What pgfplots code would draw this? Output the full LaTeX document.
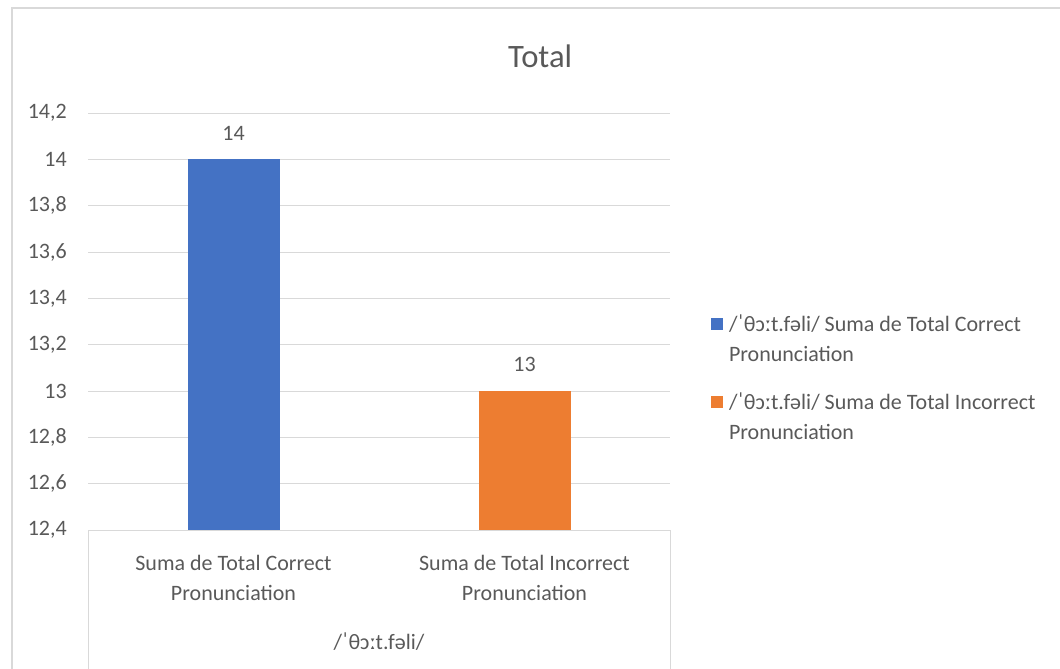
\documentclass[border=0pt]{standalone}
\usepackage{fontspec}
\setmainfont{Carlito}
\usepackage{pgfplots}
\pgfplotsset{compat=1.18}
\definecolor{xblue}{HTML}{4472C4}
\definecolor{xorange}{HTML}{ED7D31}
\definecolor{txt}{HTML}{595959}
\definecolor{gridc}{HTML}{D9D9D9}
\newcommand{\ipa}{/ˈθɔːt.fəli/}
\newcommand{\lblfont}{\fontsize{16.5}{22.5}\selectfont}

\begin{document}
\begin{tikzpicture}
\useasboundingbox (0,0) rectangle (795pt,-501pt);
\draw[gridc, line width=1pt] (9pt,-520pt) -- (9pt,-6pt) -- (820pt,-6pt);
\begin{axis}[
  name=ax, at={(66pt,-397.5pt)}, anchor=south west,
  scale only axis, width=436.5pt, height=312.75pt,
  xmin=-0.5, xmax=1.5, ymin=12.4, ymax=14.2,
  ytick={12.4,12.6,12.8,13,13.2,13.4,13.6,13.8,14,14.2},
  scaled y ticks=false,
  /pgf/number format/.cd, use comma, 1000 sep={}, assume math mode=true, /pgfplots/.cd,
  ybar, bar width=69pt, bar shift=0pt,
  axis line style={draw=none}, major tick length=0pt,
  ymajorgrids, grid style={gridc, line width=0.75pt},
  xtick={0,1},
  xticklabels={{Suma de Total Correct\\Pronunciation},{Suma de Total Incorrect\\Pronunciation}},
  xticklabel style={align=center, anchor=north, inner sep=0pt, yshift=-18.75pt, font=\lblfont, text=txt},
  yticklabel style={anchor=east, inner sep=0pt, xshift=-15.75pt, font=\lblfont, text=txt},
  xlabel={\ipa},
  xlabel style={at={(axis description cs:0.5,0)}, anchor=center, yshift=-84pt, font=\lblfont, text=txt},
  title={Total},
  title style={at={(axis description cs:0.777,1.134)}, anchor=center, yshift=-5.25pt, font=\fontsize{24.5}{28}\selectfont, text=txt},
  nodes near coords,
  nodes near coords style={anchor=south, inner sep=0pt, yshift=14.25pt, font=\lblfont, text=txt,
    /pgf/number format/.cd, fixed, precision=0},
  legend style={at={(axis description cs:1.07,0.518)}, anchor=north west, draw=none, fill=none,
    inner sep=0pt, column sep=4.5pt, row sep=21.75pt, font=\lblfont, text=txt,
    cells={anchor=north west, align=left}, nodes={inner sep=0pt}},
]
\addplot[fill=xblue, draw=none,
  legend image code/.code={\fill[xblue] (0pt,-12pt) rectangle (9pt,-3pt);}]
  coordinates {(0,14)};
\addplot[fill=xorange, draw=none,
  legend image code/.code={\fill[xorange] (0pt,-12pt) rectangle (9pt,-3pt);}]
  coordinates {(1,13)};
\legend{{\ipa{} Suma de Total Correct\\Pronunciation},{\ipa{} Suma de Total Incorrect\\Pronunciation}}
\end{axis}
\draw[gridc, line width=0.75pt] (ax.south west) -- ++(0,-110pt);
\draw[gridc, line width=0.75pt] (ax.south east) -- ++(0,-110pt);
\end{tikzpicture}
\end{document}
